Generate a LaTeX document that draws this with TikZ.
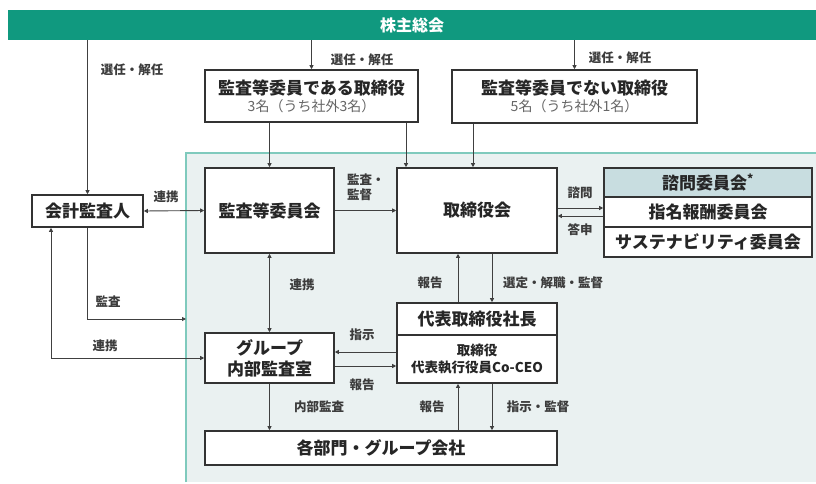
\documentclass[tikz,border=0pt]{standalone}
\usepackage{fontspec}
\setmainfont{Noto Sans CJK JP}
\usetikzlibrary{arrows.meta}
\definecolor{shgreen}{HTML}{10997F}
\definecolor{rgfill}{HTML}{EAF1F1}
\definecolor{rgline}{HTML}{7FCABD}
\definecolor{hdfill}{HTML}{C8DDE0}
\definecolor{boxline}{HTML}{333333}
\definecolor{lblgray}{HTML}{3C3C3C}

\begin{document}
\begin{tikzpicture}[x=1pt, y=-1pt,
    box/.style={draw=boxline, line width=1.6pt, fill=white, inner sep=0pt, align=center,
        font=\fontsize{17}{20}\selectfont\bfseries, text=black!85},
    lbl/.style={font=\fontsize{12.5}{15}\selectfont\bfseries, text=lblgray, inner sep=0pt, align=left},
    arr/.style={draw=black!75, line width=0.9pt, -{Triangle[length=4pt,width=4pt]}},
    arrs/.style={arr, {Triangle[length=4pt,width=4pt]}-{Triangle[length=4pt,width=4pt]}}]
    \useasboundingbox (0,0) rectangle (816,484);

    % Background region
    \fill[rgfill] (186,153) rectangle (816,482);
    \draw[rgline, line width=1.8pt] (186,482) |- (816,153);

    % Shareholders
    \node[fill=shgreen, minimum width=808pt, minimum height=30pt, inner sep=0pt, text=white,
        font=\fontsize{16}{18}\selectfont\bfseries] (sh) at (412,25) {株主総会};

    % Boxes
    \node[box, minimum width=213pt, minimum height=52pt] (dA) at (311.5,96)
        {監査等委員である取締役\\[-3pt]{\mdseries\fontsize{14}{16}\selectfont\color{black!60}3名（うち社外3名）}};
    \node[box, minimum width=245pt, minimum height=53pt] (dB) at (574.5,96.5)
        {監査等委員でない取締役\\[-3pt]{\mdseries\fontsize{14}{16}\selectfont\color{black!60}5名（うち社外1名）}};
    \node[box, minimum width=111pt, minimum height=32pt] (acc) at (87.5,211) {会計監査人};
    \node[box, minimum width=129pt, minimum height=85pt] (ac) at (269.5,210.5) {監査等委員会};
    \node[box, minimum width=160pt, minimum height=85pt] (bd) at (477,210.5) {取締役会};
    \node[box, fill=hdfill, minimum width=208pt, minimum height=29pt] (cm1) at (708,182.5) {諮問委員会\textsuperscript{*}};
    \node[box, minimum width=208pt, minimum height=30pt] (cm2) at (708,212) {指名報酬委員会};
    \node[box, minimum width=208pt, minimum height=30pt] (cm3) at (708,242) {サステナビリティ委員会};
    \node[box, minimum width=160pt, minimum height=32pt] (ceo) at (477,319) {代表取締役社長};
    \node[box, minimum width=160pt, minimum height=48pt, font=\fontsize{13.5}{17}\selectfont\bfseries] (ceo2) at (477,359)
        {取締役\\代表執行役員Co-CEO};
    \node[box, minimum width=129pt, minimum height=50pt, font=\fontsize{17}{21}\selectfont\bfseries] (ia) at (269.5,358)
        {グループ\\内部監査室};
    \node[box, minimum width=352pt, minimum height=34pt] (dept) at (381,448) {各部門・グループ会社};

    % Helper coordinates
    \coordinate (xa) at (406,0);
    \coordinate (xb) at (473,0);
    \coordinate (xc) at (458,0);
    \coordinate (xd) at (492,0);
    \coordinate (xe) at (51,0);
    \coordinate (rgl) at (186,319);
    \coordinate (q1) at ([yshift=4pt]cm2.west);
    \coordinate (q2) at ([yshift=-4pt]cm2.west);
    \coordinate (q3) at ([yshift=6pt]ia.east);
    \coordinate (q4) at ([yshift=-8pt]ia.east);

    % Connectors
    \draw[arr] (sh.south -| acc.north) -- (acc.north);
    \draw[arr] (sh.south -| dA.north) -- (dA.north);
    \draw[arr] (sh.south -| dB.north) -- (dB.north);
    \draw[arr] (dA.south -| ac.north) -- (ac.north);
    \draw[arr] (dA.south -| xa) -- (bd.north -| xa);
    \draw[arr] (dB.south -| xb) -- (bd.north -| xb);
    \draw[arrs] (acc.east) -- (ac.west);
    \draw[arr] (ac.east) -- (bd.west);
    \draw[arr] (q1 -| bd.east) -- (q1);
    \draw[arr] (q2) -- (q2 -| bd.east);
    \draw[arr] (ceo.north -| xc) -- (bd.south -| xc);
    \draw[arr] (bd.south -| xd) -- (ceo.north -| xd);
    \draw[arrs] (ac.south) -- (ia.north);
    \draw[arr] (q3 -| ceo2.west) -- (q3);
    \draw[arr] (q4) -- (q4 -| ceo2.west);
    \draw[arr] (ia.south) -- (ia.south |- dept.north);
    \draw[arr] (dept.north -| xc) -- (ceo2.south -| xc);
    \draw[arr] (ceo2.south -| xd) -- (dept.north -| xd);
    \draw[arr] (acc.south) |- (rgl);
    \draw[arrs] (acc.south -| xe) |- (ia.west);

    % Labels
    \node[lbl] (l1) at (132,70) {選任・解任};
    \node[lbl] (l2) at (362,60) {選任・解任};
    \node[lbl] (l3) at (620,58) {選任・解任};
    \node[lbl] (l4) at (166,197) {連携};
    \node[lbl, anchor=west] (l5) at (347,187) {監査・\\監督};
    \node[lbl] (l6) at (580,193) {諮問};
    \node[lbl] (l7) at (580,230) {答申};
    \node[lbl] (l8) at (430,283) {報告};
    \node[lbl] (l9) at (553,283) {選定・解職・監督};
    \node[lbl] (l10) at (302,285) {連携};
    \node[lbl] (l11) at (108,302) {監査};
    \node[lbl] (l12) at (105,346) {連携};
    \node[lbl] (l13) at (362,335) {指示};
    \node[lbl] (l14) at (362,385) {報告};
    \node[lbl] (l15) at (319,407) {内部監査};
    \node[lbl] (l16) at (432,407) {報告};
    \node[lbl] (l17) at (538,407) {指示・監督};
\end{tikzpicture}
\end{document}
